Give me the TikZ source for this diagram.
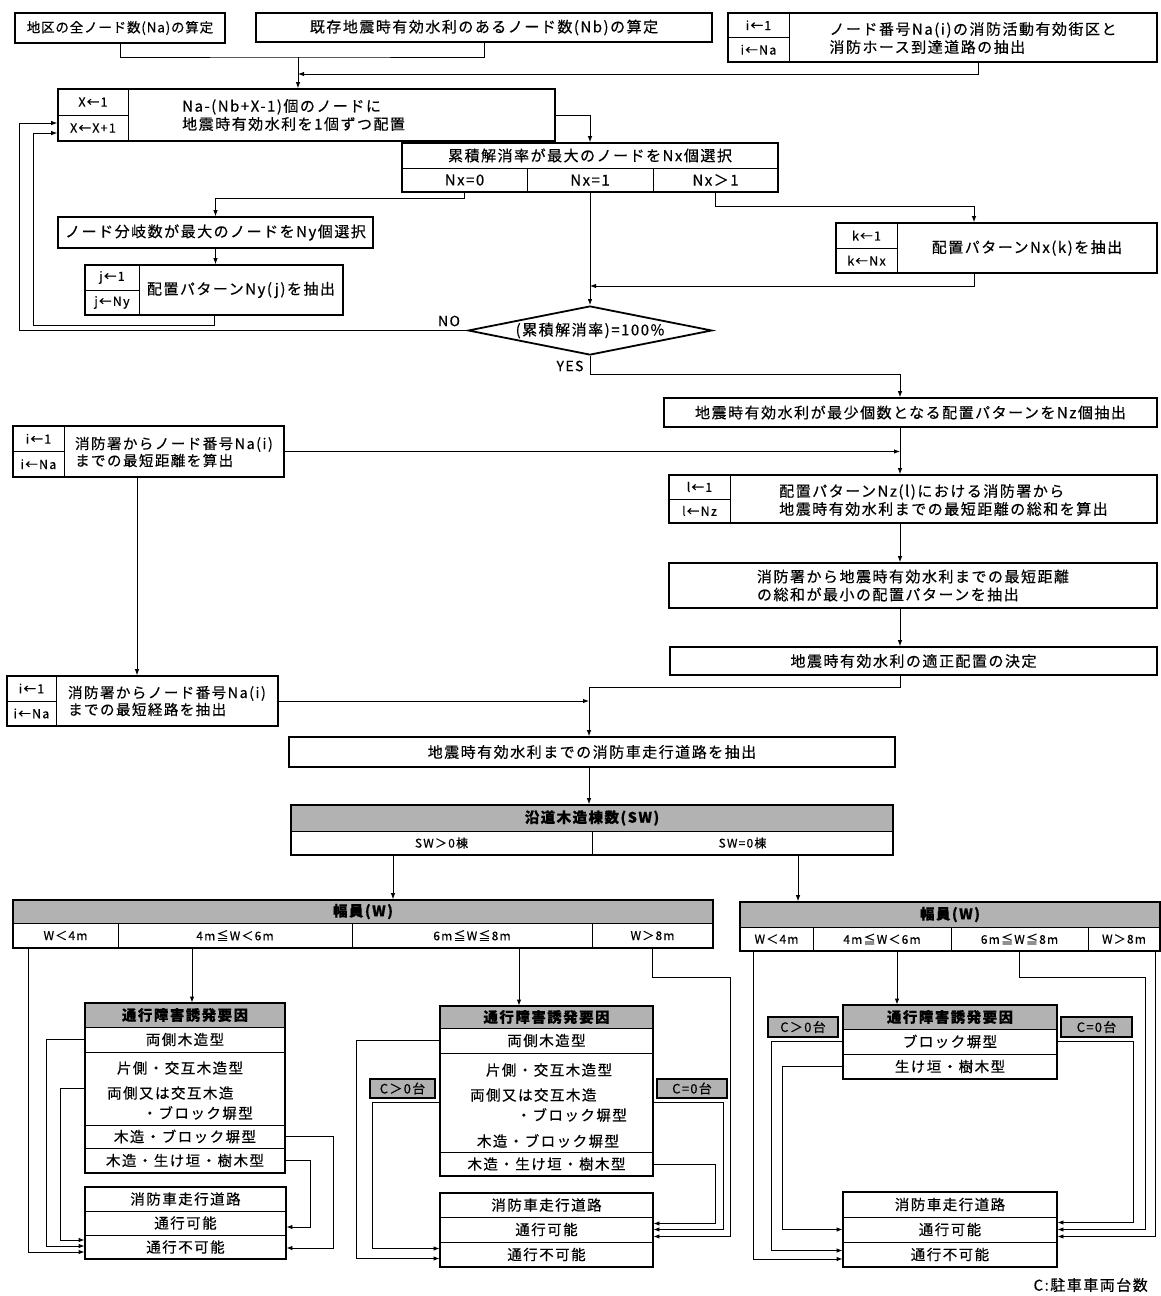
\documentclass[tikz,border=0pt]{standalone}
\usepackage{fontspec}
\setmainfont[LetterSpace=10, FakeBold=0.4]{Noto Sans CJK JP}
\usetikzlibrary{shapes.geometric,arrows.meta}
\definecolor{shade}{RGB}{178,178,178}

\begin{document}
\begin{tikzpicture}[
    x=1pt, y=-1pt,
    sz/.style 2 args={minimum width=#1pt, minimum height=#2pt},
    box/.style={draw, line width=1.6pt, inner sep=0pt, align=center},
    cell/.style={draw, line width=0.9pt, inner sep=0pt, align=center},
    frame/.style={draw, line width=1.6pt, inner sep=0pt},
    ctr/.style={cell, font=\fontsize{12.5}{14}\selectfont},
    wcell/.style={cell, font=\fontsize{12}{14}\selectfont},
    lcell/.style={cell, font=\fontsize{14.5}{17}\selectfont},
    head/.style={cell, fill=shade, font=\fontsize{14.5}{17}\selectfont\bfseries},
    tag/.style={draw, line width=1.4pt, fill=shade, inner sep=0pt, font=\fontsize{13}{15}\selectfont},
    txt/.style={inner sep=0pt, align=left},
    txts/.style={txt, font=\fontsize{14.5}{17}\selectfont},
    ltxt/.style={inner sep=0pt, font=\fontsize{14.5}{17}\selectfont},
    conn/.style={line width=0.9pt},
    arrow/.style={conn, -{Latex[length=6pt, width=4.5pt]}}
]
    \fontsize{15}{18}\selectfont
    \useasboundingbox (0,0) rectangle (1161,1296);

    % Node counts
    \node[box, sz={210}{30}, font=\fontsize{13.5}{16}\selectfont\addfontfeature{LetterSpace=6}]
        (nall) at (120,28) {地区の全ノード数(Na)の算定};
    \node[box, sz={456}{29}] (nexist) at (484,27.5) {既存地震時有効水利のあるノード数(Nb)の算定};
    \node[frame, sz={429}{49}] (hose) at (942.5,37.5) {};
    \node[ctr, sz={61}{24.5}] (hose1) at (758.5,25.25) {i←1};
    \node[ctr, sz={61}{24.5}] (hose2) at (758.5,49.75) {i←Na};
    \node[txt] (hoset) at (973,38) {ノード番号Na(i)の消防活動有効街区と\\消防ホース到達道路の抽出};

    % Placement loop
    \node[frame, sz={497}{52}] (place) at (306.5,115) {};
    \node[ctr, sz={70}{26}] (place1) at (93,102) {X←1};
    \node[ctr, sz={70}{26}] (place2) at (93,128) {X←X+1};
    \node[txt, anchor=west] (placet) at (182,115) {Na-(Nb+X-1)個のノードに\\地震時有効水利を1個ずつ配置};

    \node[cell, sz={376}{25}] (maxnx) at (590,155.5) {累積解消率が最大のノードをNx個選択};
    \node[cell, sz={125}{24}] (nx0) at (464.5,180) {Nx=0};
    \node[cell, sz={126}{24}] (nx1) at (590,180) {Nx=1};
    \node[cell, sz={125}{24}] (nx2) at (715.5,180) {Nx＞1};
    \node[frame, sz={376}{49}] (maxnxf) at (590,167.5) {};

    \node[box, sz={315}{31}] (branch) at (215.5,232.5) {ノード分岐数が最大のノードをNy個選択};
    \node[frame, sz={258}{50}] (patny) at (214,290) {};
    \node[ctr, sz={54}{25}] (patny1) at (112,277.5) {j←1};
    \node[ctr, sz={54}{25}] (patny2) at (112,302.5) {j←Ny};
    \node[txt] (patnyt) at (241,290) {配置パターンNy(j)を抽出};

    \node[frame, sz={321}{50}] (patnx) at (996.5,248) {};
    \node[ctr, sz={61}{25}] (patnx1) at (866.5,235.5) {k←1};
    \node[ctr, sz={61}{25}] (patnx2) at (866.5,260.5) {k←Nx};
    \node[txt] (patnxt) at (1027,248) {配置パターンNx(k)を抽出};

    \node[draw, diamond, line width=1.8pt, inner sep=0pt, aspect=5, sz={244}{49}]
        (check) at (590,330.5) {(累積解消率)=100\%};
    \node[font=\fontsize{14}{16}\selectfont] (no) at (449,321) {NO};
    \node[font=\fontsize{14}{16}\selectfont] (yes) at (570,366) {YES};

    % Shortest distances
    \node[box, sz={493}{29}] (minz) at (910.5,412.5) {地震時有効水利が最少個数となる配置パターンをNz個抽出};
    \node[frame, sz={271}{51}] (route1) at (148.5,451.5) {};
    \node[ctr, sz={51}{25.5}] (route1a) at (38.5,438.75) {i←1};
    \node[ctr, sz={51}{25.5}] (route1b) at (38.5,464.25) {i←Na};
    \node[txts] (route1t) at (174,452) {消防署からノード番号Na(i)\\までの最短距離を算出};

    \node[frame, sz={488}{48}] (sumd) at (913,499) {};
    \node[ctr, sz={61}{24}] (sumd1) at (699.5,487) {l←1};
    \node[ctr, sz={61}{24}] (sumd2) at (699.5,511) {l←Nz};
    \node[txt] (sumdt) at (943.5,500) {配置パターンNz(l)における消防署から\\地震時有効水利までの最短距離の総和を算出};

    \node[box, sz={488}{45}, align=left] (mind) at (913,585.5) {消防署から地震時有効水利までの最短距離\\の総和が最小の配置パターンを抽出};
    \node[box, sz={487}{28}] (decide) at (913.5,661) {地震時有効水利の適正配置の決定};

    \node[frame, sz={271}{50}] (route2) at (142.5,701) {};
    \node[ctr, sz={49}{25}] (route2a) at (31.5,688.5) {i←1};
    \node[ctr, sz={49}{25}] (route2b) at (31.5,713.5) {i←Na};
    \node[txts] (route2t) at (167,701) {消防署からノード番号Na(i)\\までの最短経路を抽出};

    \node[box, sz={606}{30}] (truck) at (592,752) {地震時有効水利までの消防車走行道路を抽出};

    % Roadside wood and width
    \node[head, sz={602}{26}] (woodh) at (592,818) {沿道木造棟数(SW)};
    \node[wcell, sz={301}{24}] (wood1) at (441.5,843) {SW＞0棟};
    \node[wcell, sz={301}{24}] (wood2) at (742.5,843) {SW=0棟};
    \node[frame, sz={602}{50}] (wood) at (592,830) {};

    \node[head, sz={700}{23}] (wlh) at (363,911.5) {幅員(W)};
    \node[wcell, sz={105}{25}] (wl1) at (65.5,935.5) {W＜4m};
    \node[wcell, sz={234}{25}] (wl2) at (235,935.5) {4m≦W＜6m};
    \node[wcell, sz={240}{25}] (wl3) at (472,935.5) {6m≦W≦8m};
    \node[wcell, sz={121}{25}] (wl4) at (652.5,935.5) {W＞8m};
    \node[frame, sz={700}{48}] (wleft) at (363,924) {};

    \node[head, sz={420}{25}] (wrh) at (950,914.5) {幅員(W)};
    \node[wcell, sz={73}{24}] (wr1) at (776.5,939) {W＜4m};
    \node[wcell, sz={138}{24}] (wr2) at (882,939) {4m≦W＜6m};
    \node[wcell, sz={137}{24}] (wr3) at (1019.5,939) {6m≦W≦8m};
    \node[wcell, sz={72}{24}] (wr4) at (1124,939) {W＞8m};
    \node[frame, sz={420}{49}] (wright) at (950,926.5) {};

    % Obstruction factors
    \node[head, sz={200}{24}] (ob1h) at (185,1015) {通行障害誘発要因};
    \node[lcell, sz={200}{25}] (ob1a) at (185,1039.5) {両側木造型};
    \node[lcell, sz={200}{73}] (ob1b) at (185,1088.5) {};
    \node[lcell, sz={200}{23}] (ob1c) at (185,1136.5) {木造・ブロック塀型};
    \node[lcell, sz={200}{25}] (ob1d) at (185,1160.5) {木造・生け垣・樹木型};
    \node[frame, sz={200}{170}] (ob1) at (185,1088) {};
    \node[ltxt] (ob1b1) at (180,1068) {片側・交互木造型};
    \node[ltxt, anchor=west] (ob1b2) at (107,1093) {両側又は交互木造};
    \node[ltxt, anchor=east] (ob1b3) at (253,1113) {・ブロック塀型};

    \node[head, sz={213}{22}] (ob2h) at (546.5,1017) {通行障害誘発要因};
    \node[lcell, sz={213}{25}] (ob2a) at (546.5,1040.5) {両側木造型};
    \node[lcell, sz={213}{99}] (ob2b) at (546.5,1102.5) {};
    \node[lcell, sz={213}{24}] (ob2d) at (546.5,1164) {木造・生け垣・樹木型};
    \node[frame, sz={213}{170}] (ob2) at (546.5,1091) {};
    \node[ltxt] (ob2b1) at (549,1070) {片側・交互木造型};
    \node[ltxt, anchor=west] (ob2b2) at (470,1095) {両側又は交互木造};
    \node[ltxt, anchor=east] (ob2b3) at (627,1115) {・ブロック塀型};
    \node[ltxt] (ob2b4) at (548,1141) {木造・ブロック塀型};

    \node[head, sz={214}{24}] (ob3h) at (950,1017) {通行障害誘発要因};
    \node[lcell, sz={214}{25}] (ob3a) at (950,1041.5) {ブロック塀型};
    \node[lcell, sz={214}{25}] (ob3b) at (950,1066.5) {生け垣・樹木型};
    \node[frame, sz={214}{74}] (ob3) at (950,1042) {};

    \node[tag, sz={65}{19}] (c2pos) at (402.5,1088.5) {C＞0台};
    \node[tag, sz={70}{19}] (c2zero) at (692,1088.5) {C=0台};
    \node[tag, sz={70}{20}] (c3pos) at (803,1027) {C＞0台};
    \node[tag, sz={71}{20}] (c3zero) at (1096.5,1027) {C=0台};

    % Fire engine roads
    \node[lcell, sz={201}{24}] (rd1h) at (185.5,1199) {消防車走行道路};
    \node[lcell, sz={201}{24}] (rd1p) at (185.5,1223) {通行可能};
    \node[lcell, sz={201}{24}] (rd1n) at (185.5,1247) {通行不可能};
    \node[frame, sz={201}{72}] (rd1) at (185.5,1223) {};

    \node[lcell, sz={213}{24}] (rd2h) at (546.5,1205) {消防車走行道路};
    \node[lcell, sz={213}{25}] (rd2p) at (546.5,1229.5) {通行可能};
    \node[lcell, sz={213}{25}] (rd2n) at (546.5,1254.5) {通行不可能};
    \node[frame, sz={213}{74}] (rd2) at (546.5,1230) {};

    \node[lcell, sz={214}{25}] (rd3h) at (950,1204.5) {消防車走行道路};
    \node[lcell, sz={214}{25}] (rd3p) at (950,1229.5) {通行可能};
    \node[lcell, sz={214}{25}] (rd3n) at (950,1254.5) {通行不可能};
    \node[frame, sz={214}{75}] (rd3) at (950,1229.5) {};

    \node[anchor=east] (note) at (1153,1285) {C:駐車車両台数};

    % Columns and joints
    \coordinate (j1) at (298,57);
    \coordinate (cfb) at (978,74);
    \coordinate (kin) at (590,286);
    \coordinate (colR) at (900,0);
    \coordinate (colM) at (589,0);
    \coordinate (colL) at (137,0);
    \coordinate (colA) at (393,0);
    \coordinate (colB) at (798,0);

    % Arrows, upper part
    \draw[conn] (nall.south) |- (j1) -| (nexist.south);
    \draw[arrow] (j1) -- (j1 |- place.north);
    \draw[arrow] (cfb |- hose.south) -- (cfb) -- (cfb -| j1);
    \draw[arrow] (place.east) -| (maxnxf.north);
    \draw[arrow] (nx0.south) -- ++(0,6) -| (branch.north);
    \draw[arrow] (branch.south) -- (branch.south |- patny.north);
    \draw[arrow] (patny.south) -- ++(0,10) -- ++(-181,0) |- ([yshift=-18pt]place.west);
    \draw[arrow] (check.west) -- ++(-448,0) |- ([yshift=-8pt]place.west);
    \draw[arrow] (nx1.south) -- (check.north);
    \draw[arrow] (nx2.south) -- ++(0,14) -| ([xshift=-22.5pt]patnx.north);
    \draw[arrow] ([xshift=-22.5pt]patnx.south) |- (kin);
    \draw[arrow] (check.south) -- ++(0,19) -| (colR |- minz.north);
    \draw[arrow] (colR |- minz.south) -- (colR |- sumd.north);
    \draw[arrow] (route1.east) -- (route1.east -| colR);
    \draw[arrow] (colR |- sumd.south) -- (colR |- mind.north);
    \draw[arrow] (colR |- mind.south) -- (colR |- decide.north);
    \draw[arrow] (colR |- decide.south) -- ++(0,12) -| (colM |- truck.north);
    \draw[arrow] (colL |- route1.south) -- (colL |- route2.north);
    \draw[arrow] (route2.east) -- (route2.east -| colM);
    \draw[arrow] (colM |- truck.south) -- (colM |- wood.north);
    \draw[arrow] (colA |- wood.south) -- (colA |- wleft.north);
    \draw[arrow] (colB |- wood.south) -- (colB |- wright.north);

    % Arrows, left group
    \draw[arrow] (wl2.south -| 192,0) -- (ob1h.north -| 192,0);
    \draw[arrow] (wl1.south -| 28,0) |- ([yshift=-5pt]rd1n.west);
    \draw[arrow] (ob1a.west) -- ++(-38,0) |- ([yshift=1pt]rd1n.west);
    \draw[arrow] (ob1b.west) -- ++(-24,0) |- ([yshift=7pt]rd1n.west);
    \draw[arrow] (ob1c.east) -- ++(48,0) |- ([yshift=-1pt]rd1n.east);
    \draw[arrow] (ob1d.east) -- ++(25,0) |- ([yshift=-4pt]rd1p.east);

    % Arrows, middle group
    \draw[arrow] (wl3.south -| 519,0) -- (ob2h.north -| 519,0);
    \draw[arrow] (ob2a.west) -- ++(-83,0) |- ([yshift=-4pt]rd2n.west);
    \draw[arrow] (ob2b.west) -- ++(-67,0) |- ([yshift=6pt]rd2n.west);
    \draw[arrow] (ob2b.east) -- ++(70,0) |- (rd2p.east);
    \draw[arrow] (ob2d.east) -- ++(62,0) |- ([yshift=6pt]rd2p.east);
    \draw[arrow] (wl4.south) -- ++(0,29) -- ++(78,0) |- ([yshift=-7pt]rd2p.east);

    % Arrows, right group
    \draw[arrow] (wr2.south -| 897,0) -- (ob3h.north -| 897,0);
    \draw[arrow] (wr1.south -| 753,0) |- ([yshift=-4.5pt]rd3n.west);
    \draw[arrow] (ob3a.west) -- ++(-71,0) |- ([yshift=4pt]rd3n.west);
    \draw[arrow] (ob3b.west) -- ++(-60,0) |- (rd3p.west);
    \draw[arrow] (ob3a.east) -- ++(76,0) |- ([yshift=7pt]rd3p.east);
    \draw[arrow] (wr3.south) -- ++(0,26) -- ++(125.5,0) |- (rd3p.east);
    \draw[arrow] (wr4.south -| 1155,0) |- ([yshift=-7pt]rd3p.east);
\end{tikzpicture}
\end{document}
